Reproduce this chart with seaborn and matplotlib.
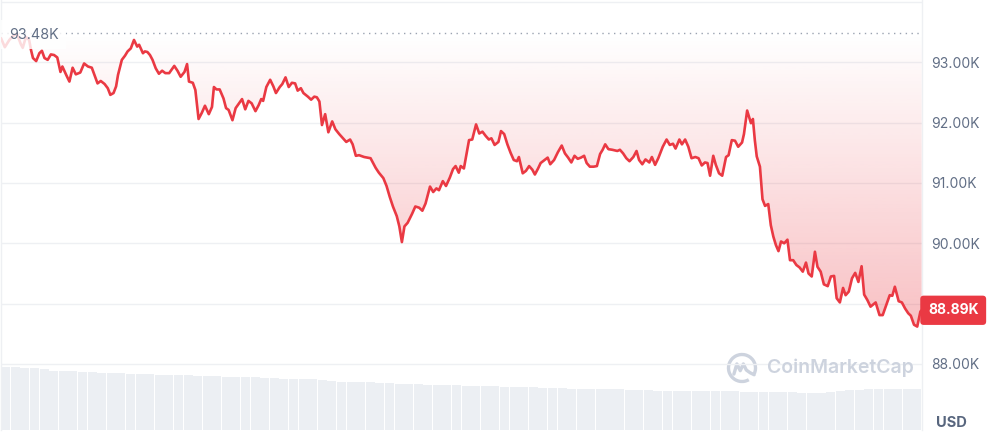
import numpy as np
import matplotlib
matplotlib.use("Agg")
import matplotlib.pyplot as plt
import matplotlib.transforms as mtransforms
from matplotlib.patches import Arc
from matplotlib.lines import Line2D
from matplotlib.colors import to_rgb
import seaborn as sns

# ---------------- data ----------------
minutes = [
    0, 6, 13, 19, 25, 31, 34, 39, 44, 47,
    50, 55, 60, 64, 68, 73, 78, 83, 88, 93,
    96, 102, 107, 112, 117, 124, 130, 136, 142, 151,
    156, 162, 167, 171, 176, 180, 183, 189, 194, 198,
    203, 208, 213, 216, 222, 225, 229, 233, 237, 242,
    247, 252, 257, 263, 271, 276, 281, 287, 291, 294,
    300, 304, 309, 314, 319, 325, 330, 333, 337, 342,
    348, 352, 356, 362, 367, 373, 377, 382, 387, 392,
    398, 403, 407, 410, 415, 421, 426, 430, 436, 440,
    445, 450, 455, 460, 464, 469, 473, 480, 485, 490,
    494, 498, 502, 507, 512, 518, 523, 529, 535, 540,
    546, 550, 555, 560, 568, 578, 586, 591, 598, 603,
    608, 613, 619, 623, 627, 631, 636, 643, 648, 654,
    659, 664, 671, 676, 681, 685, 691, 696, 702, 707,
    711, 716, 719, 724, 732, 737, 743, 748, 753, 758,
    763, 767, 772, 778, 782, 787, 792, 797, 802, 807,
    810, 816, 821, 826, 831, 835, 840, 844, 849, 855,
    859, 865, 871, 877, 882, 887, 892, 897, 902, 907,
    912, 916, 921, 927, 932, 937, 941, 945, 950, 956,
    964, 968, 973, 978, 983, 989, 994, 998, 1003, 1008,
    1014, 1018, 1023, 1028, 1035, 1041, 1046, 1051, 1055, 1061,
    1065, 1070, 1075, 1080, 1086, 1091, 1096, 1101, 1105, 1109,
    1114, 1118, 1123, 1128, 1134, 1138, 1143, 1148, 1153, 1159,
    1162, 1167, 1173, 1176, 1179, 1182, 1187, 1191, 1195, 1200,
    1204, 1208, 1212, 1216, 1220, 1225, 1230, 1234, 1239, 1244,
    1249, 1254, 1259, 1263, 1268, 1273, 1277, 1282, 1287, 1293,
    1298, 1303, 1307, 1312, 1317, 1321, 1326, 1331, 1336, 1341,
    1346, 1350, 1355, 1360, 1368, 1374, 1379, 1385, 1390, 1394,
    1398, 1404, 1409, 1414, 1419, 1423, 1428, 1433, 1438, 1440,
]

price_k = [
    93.40, 93.25, 93.37, 93.44, 93.47, 93.30, 93.24, 93.42, 93.37, 93.20,
    93.07, 93.02, 93.15, 93.19, 93.07, 93.04, 93.13, 93.12, 93.08, 92.84,
    92.93, 92.79, 92.68, 92.91, 92.80, 92.83, 92.98, 92.93, 92.91, 92.65,
    92.69, 92.64, 92.57, 92.46, 92.49, 92.60, 92.79, 93.04, 93.11, 93.18,
    93.23, 93.37, 93.26, 93.29, 93.15, 93.18, 93.17, 93.12, 93.04, 92.90,
    92.81, 92.86, 92.82, 92.82, 92.94, 92.86, 92.76, 92.84, 92.97, 92.68,
    92.66, 92.54, 92.06, 92.16, 92.28, 92.14, 92.26, 92.59, 92.55, 92.55,
    92.40, 92.24, 92.21, 92.04, 92.24, 92.33, 92.39, 92.22, 92.36, 92.32,
    92.19, 92.29, 92.39, 92.36, 92.59, 92.71, 92.60, 92.49, 92.59, 92.64,
    92.75, 92.59, 92.66, 92.65, 92.53, 92.57, 92.49, 92.43, 92.38, 92.43,
    92.42, 92.35, 91.96, 92.14, 91.84, 92.02, 91.89, 91.81, 91.74, 91.68,
    91.72, 91.64, 91.45, 91.46, 91.43, 91.41, 91.25, 91.17, 91.08, 90.95,
    90.77, 90.61, 90.45, 90.28, 90.02, 90.28, 90.34, 90.49, 90.61, 90.59,
    90.54, 90.66, 90.94, 90.85, 90.91, 90.88, 91.03, 90.95, 91.09, 91.23,
    91.28, 91.17, 91.28, 91.24, 91.71, 91.72, 91.97, 91.82, 91.85, 91.78,
    91.72, 91.74, 91.63, 91.68, 91.86, 91.81, 91.64, 91.50, 91.38, 91.36,
    91.43, 91.16, 91.20, 91.28, 91.22, 91.14, 91.24, 91.33, 91.37, 91.42,
    91.31, 91.38, 91.51, 91.62, 91.49, 91.42, 91.34, 91.45, 91.40, 91.42,
    91.45, 91.33, 91.27, 91.27, 91.28, 91.48, 91.55, 91.64, 91.56, 91.55,
    91.53, 91.55, 91.49, 91.41, 91.36, 91.43, 91.53, 91.38, 91.31, 91.39,
    91.34, 91.43, 91.30, 91.41, 91.60, 91.72, 91.63, 91.65, 91.57, 91.72,
    91.64, 91.72, 91.60, 91.41, 91.43, 91.41, 91.29, 91.34, 91.33, 91.12,
    91.45, 91.30, 91.16, 91.12, 91.43, 91.46, 91.71, 91.70, 91.60, 91.67,
    91.81, 92.20, 91.99, 92.06, 91.71, 91.44, 91.27, 90.73, 90.62, 90.65,
    90.30, 90.11, 89.97, 89.87, 90.03, 90.00, 90.06, 89.72, 89.72, 89.64,
    89.60, 89.53, 89.68, 89.50, 89.45, 89.86, 89.61, 89.53, 89.32, 89.29,
    89.45, 89.46, 89.09, 89.02, 89.26, 89.14, 89.20, 89.42, 89.51, 89.36,
    89.62, 89.15, 89.06, 88.95, 89.02, 88.81, 88.81, 88.99, 89.14, 89.13,
    89.28, 89.04, 89.02, 88.92, 88.84, 88.80, 88.65, 88.62, 88.87, 88.89,
]

volume_b = [
    31.75, 31.5, 31.25, 31.0, 30.5, 29.5, 29.75, 29.5, 29.25, 29.0,
    28.75, 28.5, 28.5, 28.25, 28.0, 28.0, 27.75, 27.75, 27.5, 27.5,
    27.25, 27.25, 27.0, 26.75, 26.5, 26.75, 26.5, 26.25, 26.0, 25.75,
    25.75, 25.5, 25.5, 25.0, 24.5, 24.25, 24.25, 24.0, 24.0, 23.75,
    23.5, 23.25, 23.0, 23.0, 22.75, 22.5, 22.5, 22.5, 22.25, 22.0,
    22.0, 22.0, 21.75, 21.5, 21.5, 21.5, 21.25, 21.0, 21.0, 20.75,
    20.75, 20.75, 20.5, 20.5, 20.5, 20.25, 20.25, 20.0, 19.75, 19.75,
    19.75, 19.75, 19.5, 19.5, 19.5, 19.5, 19.5, 19.25, 19.25, 19.25,
    19.0, 19.0, 19.0, 18.75, 18.75, 18.75, 19.0, 19.75, 20.25, 20.25,
    20.5, 20.5, 20.5, 20.5, 20.75, 20.5,
]
volume_minutes = np.arange(7.5, 1440, 15)

open_price_k = 93.48
last_price_k = 88.89
open_label = "93.48K"
last_label = "88.89K"
# the 89.00K label is hidden behind the last-price badge in the reference
y_ticks = [88, 89, 90, 91, 92, 93]
y_tick_labels = ["88.00K", "", "90.00K", "91.00K", "92.00K", "93.00K"]
top_grid = 94
currency_label = "USD"
watermark = "CoinMarketCap"

# ---------------- style ----------------
sns.set_theme(style="white")
plt.rcParams["font.family"] = ["Inter", "DejaVu Sans"]

RED = "#ea3943"
GRID = "#eef0f3"
LABEL = "#616e85"

W, H = 989, 432
fig = plt.figure(figsize=(W / 100, H / 100), dpi=100)
ax = fig.add_axes([1 / W, 2 / H, 920.7 / W, 430 / H])
ax2 = ax.twinx()
ax.set_zorder(2)
ax2.set_zorder(1)
ax.patch.set_visible(False)

# volume bars (background)
sns.barplot(x=volume_minutes, y=volume_b, ax=ax2, native_scale=True,
            color="#eceff3", saturation=1, width=0.94, linewidth=0)
ax2.set_ylim(0, 215)
ax2.set_yticks([])
ax2.set_ylabel("")
for s in ax2.spines.values():
    s.set_visible(False)

# gradient fill between line and open price
poly = ax.fill_between(minutes, price_k, open_price_k, color="none", lw=0)
grad = np.zeros((256, 1, 4))
grad[..., :3] = to_rgb(RED)
grad[..., 3] = np.linspace(0.33, 0.0, 256)[:, None]
im = ax.imshow(grad, extent=[0, 1440, 88.4, open_price_k], aspect="auto",
               origin="lower", zorder=1, interpolation="bilinear")
im.set_clip_path(poly.get_paths()[0], transform=ax.transData)

# price line
sns.lineplot(x=minutes, y=price_k, ax=ax, color=RED, linewidth=1.9,
             zorder=5, estimator=None, sort=False)

# open price dotted line
ax.axhline(open_price_k, color="#9aa3b1", linestyle=(0, (1, 3.2)), lw=1.0, zorder=3)
ax.axhline(top_grid, color=GRID, lw=1.0, zorder=0)

ax.set_xlim(0, 1440)
ax.set_ylim(86.906, 94.032)
ax2.set_xlim(0, 1440)

ax.yaxis.tick_right()
ax.set_yticks(y_ticks, y_tick_labels)
ax.set_xticks([])
ax.tick_params(axis="y", length=0, pad=7, labelsize=10, labelcolor=LABEL)
ax.grid(axis="y", color=GRID, lw=1.0)
ax.grid(axis="x", visible=False)
ax.set_xlabel("")
ax.set_ylabel("")
for side in ["top", "bottom"]:
    ax.spines[side].set_visible(False)
for side in ["left", "right"]:
    ax.spines[side].set_color(GRID)
    ax.spines[side].set_linewidth(1.0)

trans = mtransforms.blended_transform_factory(ax.transAxes, ax.transData)

# open price label
ax.text(8.0 / 920.7, open_price_k - 0.02, open_label, transform=trans, ha="left",
        va="center", color=LABEL, fontsize=10.3, zorder=7,
        bbox=dict(boxstyle="square,pad=0.55", fc="white", ec="none", alpha=0.82))

# last price badge
ax.text(1 + 31.5 / 920.7, last_price_k, last_label, transform=trans, ha="center",
        va="center", color="white", fontsize=10, fontweight="bold", zorder=8,
        clip_on=False,
        bbox=dict(boxstyle="round,pad=0.55,rounding_size=0.25", fc=RED, ec="none"))

# currency label
fig.text(951.5 / W, 1 - 423 / H, currency_label, ha="center", va="center",
         color="#58667e", fontsize=10.5, fontweight="bold")

# watermark
ident = mtransforms.IdentityTransform()
cx, cy, r = 742, H - 368, 13.5
WM = "#cdd3de"
fig.add_artist(Arc((cx, cy), 2 * r, 2 * r, theta1=-25, theta2=300, lw=2.4,
                   color=WM, transform=ident))
wave = [(-0.6, -0.45), (-0.38, 0.3), (-0.13, -0.2), (0.1, 0.3), (0.32, -0.15),
        (0.6, -0.35), (0.9, -0.5)]
fig.add_artist(Line2D([cx + r * a for a, b in wave], [cy + r * b for a, b in wave],
                      lw=2.4, color=WM, transform=ident, solid_joinstyle="round",
                      solid_capstyle="round"))
fig.text(767 / W, 1 - 368 / H, watermark, ha="left", va="center", color=WM,
         fontsize=14, fontweight="semibold")

fig.savefig("out.png", dpi=100)
